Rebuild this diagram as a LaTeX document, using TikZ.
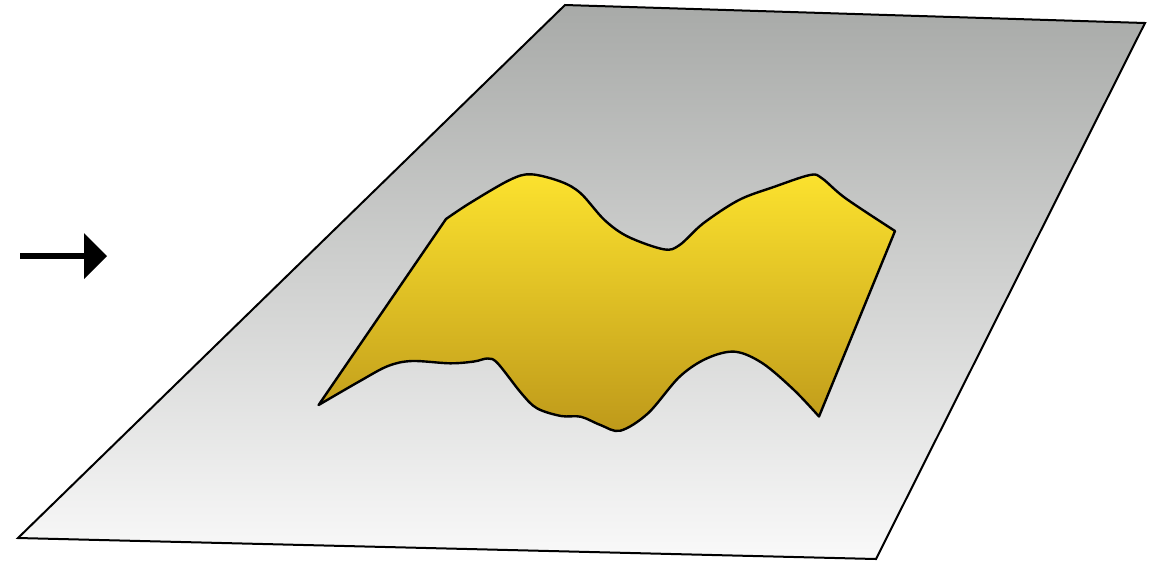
\documentclass[tikz,border=0pt]{standalone}
\begin{document}
\begin{tikzpicture}[x=0.75pt,y=-0.75pt,
  planestyle/.style={draw=black,line width=1.5pt,line join=miter,top color=planetop,bottom color=planebot},
  blobstyle/.style={draw=black,line width=1.8pt,line join=round,top color=blobtop,bottom color=blobbot},
  arrowstyle/.style={fill=black,draw=none}]
\definecolor{planetop}{RGB}{168,170,168}
\definecolor{planebot}{RGB}{249,249,249}
\definecolor{blobtop}{RGB}{252,226,46}
\definecolor{blobbot}{RGB}{190,153,26}
\useasboundingbox (0,0) rectangle (1149,562);
% plane
\coordinate (p1) at (565,5);
\coordinate (p2) at (1145,23);
\coordinate (p3) at (876,559);
\coordinate (p4) at (18,538);
\path[planestyle] (p1) -- (p2) -- (p3) -- (p4) -- cycle;
% arrow
\coordinate (a1) at (20,256);
\coordinate (a2) at (86,256);
\draw[line width=5.2pt] (a1) -- (a2);
\path[arrowstyle] (84,233) -- (107,256) -- (84,279) -- cycle;
% yellow sheet
\coordinate (lb) at (318.6,405);
\coordinate (lt) at (446,219);
\coordinate (rt) at (895,231);
\coordinate (rb) at (819,416.5);
\path[blobstyle] (lb) -- (lt)
  -- plot[smooth,tension=0.55] coordinates {(446,219) (470,203) (509.6,180) (531,174.3) (561,181.7) (580.7,193.3) (604.5,220) (628,236.7) (663.8,249.3) (679.6,245) (703.3,223.3) (738.9,200) (774.5,186.7) (810,175) (822,178.3) (845.6,198.3) (895,231)}
  -- (rb)
  -- plot[smooth,tension=0.55] coordinates {(819,416.5) (794,390) (762.6,363.3) (735,351.7) (707,358.3) (679.6,376.7) (648,413.3) (620.3,430.7) (600.5,425) (580.7,416.7) (561,416) (537,408.3) (521.4,393.3) (497.7,363.3) (487.8,358.5) (474,361.5) (450,363.3) (412,361) (388,366) (360,381) (318.6,405)}
  -- cycle;
\end{tikzpicture}
\end{document}
